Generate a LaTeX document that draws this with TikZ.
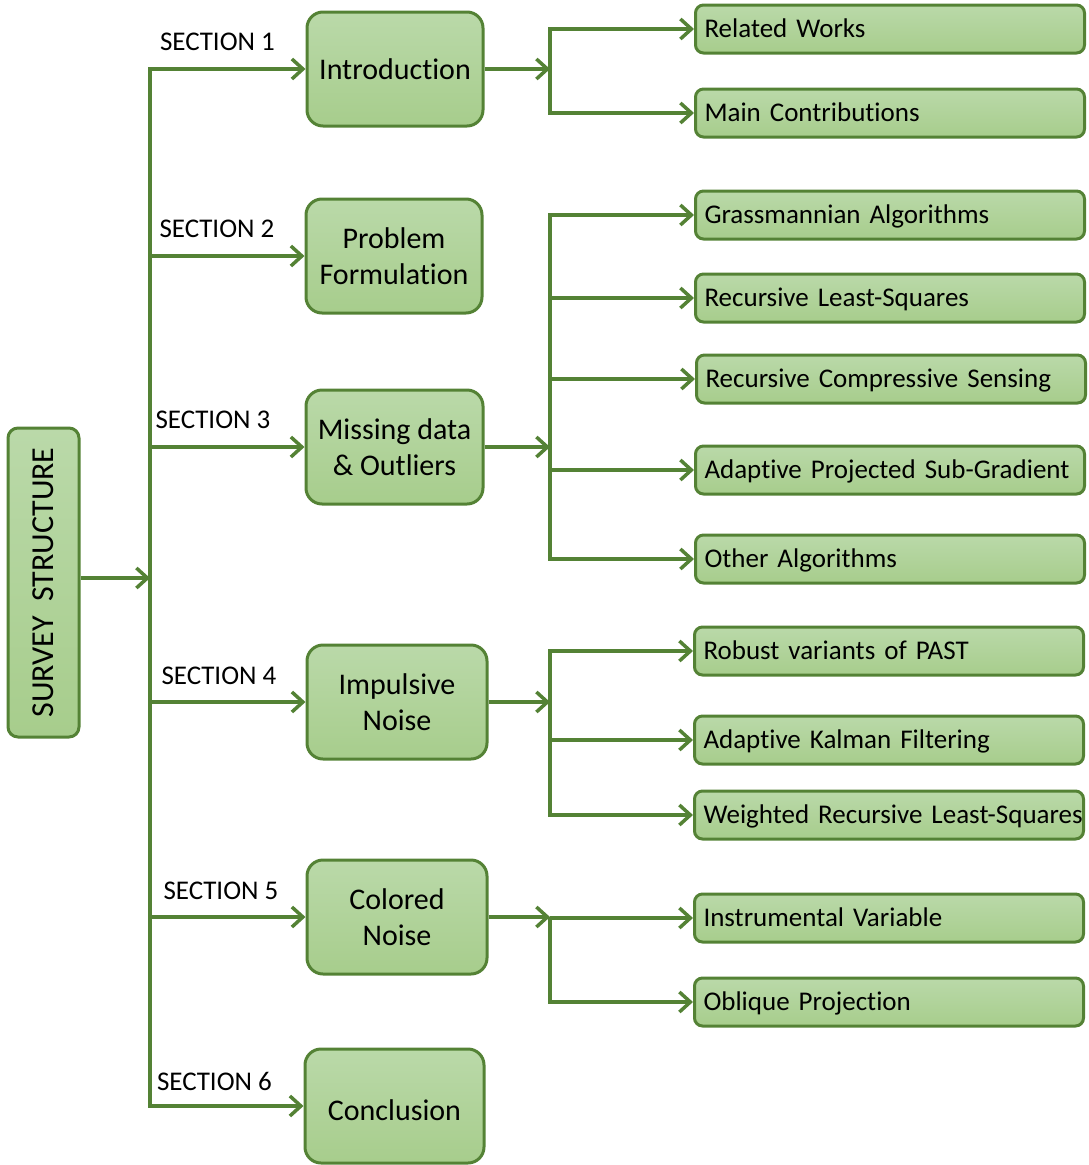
\documentclass[tikz,border=0pt]{standalone}
\usepackage{fontspec}
\setmainfont{Carlito}[Ligatures={NoCommon}]
\usetikzlibrary{arrows.meta}
\definecolor{gline}{RGB}{84,130,53}
\definecolor{gtop}{RGB}{186,217,169}
\definecolor{gbot}{RGB}{167,205,140}
\begin{document}
\begin{tikzpicture}[x=1pt,y=1pt,
  arr/.style={draw=gline, line width=3.5pt, -{Straight Barb[length=11pt,width=20pt]}},
  box/.style={draw=gline, line width=3pt, top color=gtop, bottom color=gbot},
  mid/.style={box, rounded corners=16pt, minimum width=176pt, minimum height=114pt, align=center, font=\fontsize{30}{36}\selectfont, inner sep=0pt},
  leaf/.style={box, rounded corners=8pt, anchor=west, minimum height=48pt, text width=371pt, inner xsep=9pt, inner ysep=0pt, align=left, font=\fontsize{27}{32}\selectfont, text height=20.5pt, text depth=3.5pt},
  sec/.style={font=\fontsize{27}{32}\selectfont, inner sep=0pt}]
\useasboundingbox (0,0) rectangle (1089,-1165);

% root
\node[box, rounded corners=10pt, rotate=90, minimum width=309pt, minimum height=71pt, inner sep=0pt, font=\fontsize{32}{38}\selectfont] (survey) at (43.5,-582.5) {SURVEY\ \ STRUCTURE};
\coordinate (t) at (150,-578);
\draw[arr] (survey.south |- t) -- (t);

% sections
\node[mid] (intro) at (395,-69) {Introduction};
\node[mid] (prob) at (394,-256) {Problem\\Formulation};
\node[mid, minimum width=177pt] (miss) at (394.5,-447) {Missing data\\\& Outliers};
\node[mid, minimum width=180pt] (imp) at (397,-702) {Impulsive\\Noise};
\node[mid, minimum width=180pt] (col) at (397,-917) {Colored\\Noise};
\node[mid, minimum width=179pt, text height=30pt, text depth=0.6pt] (conc) at (394.5,-1106) {Conclusion};

\draw[arr] (t) |- (intro.west);
\draw[arr] (t) |- (prob.west);
\draw[arr] (t) |- (miss.west);
\draw[arr] (t) |- (imp.west);
\draw[arr] (t) |- (col.west);
\draw[arr] (t) |- (conc.west);

\node[sec] (s1) at (217.5,-42) {SECTION 1};
\node[sec] (s2) at (217,-229) {SECTION 2};
\node[sec] (s3) at (213,-420) {SECTION 3};
\node[sec] (s4) at (219,-676) {SECTION 4};
\node[sec] (s5) at (221,-891) {SECTION 5};
\node[sec] (s6) at (214.5,-1081) {SECTION 6};

% leaves: introduction
\node[leaf] (rw) at (694,-29) {Related Works};
\node[leaf] (mc) at (694,-113) {Main Contributions};
\coordinate (j1) at (550,-69);
\draw[arr] (intro.east) -- (j1);
\draw[arr] (j1) |- (rw.west);
\draw[arr] (j1) |- (mc.west);

% leaves: missing data
\node[leaf] (ga) at (694,-215) {Grassmannian Algorithms};
\node[leaf] (rls) at (694,-298) {Recursive Least-Squares};
\node[leaf] (rcs) at (695,-379) {Recursive Compressive Sensing};
\node[leaf] (apsg) at (694,-470) {Adaptive Projected Sub-Gradient};
\node[leaf] (oa) at (694,-559) {Other Algorithms};
\coordinate (j3) at (550,-447);
\draw[arr] (miss.east) -- (j3);
\draw[arr] (j3) |- (ga.west);
\draw[arr] (j3) |- (rls.west);
\draw[arr] (j3) |- (rcs.west);
\draw[arr] (j3) |- (apsg.west);
\draw[arr] (j3) |- (oa.west);

% leaves: impulsive noise
\node[leaf] (past) at (693,-651) {Robust variants of PAST};
\node[leaf] (akf) at (693,-740) {Adaptive Kalman Filtering};
\node[leaf] (wrls) at (693,-815) {\mbox{Weighted Recursive Least-Squares}};
\coordinate (j4) at (550,-702);
\draw[arr] (imp.east) -- (j4);
\draw[arr] (j4) |- (past.west);
\draw[arr] (j4) |- (akf.west);
\draw[arr] (j4) |- (wrls.west);

% leaves: colored noise
\node[leaf] (iv) at (693,-918) {Instrumental Variable};
\node[leaf] (op) at (693,-1002) {Oblique Projection};
\coordinate (j5) at (550,-917);
\draw[arr] (col.east) -- (j5);
\draw[arr] (j5) |- (iv.west);
\draw[arr] (j5) |- (op.west);
\end{tikzpicture}
\end{document}
